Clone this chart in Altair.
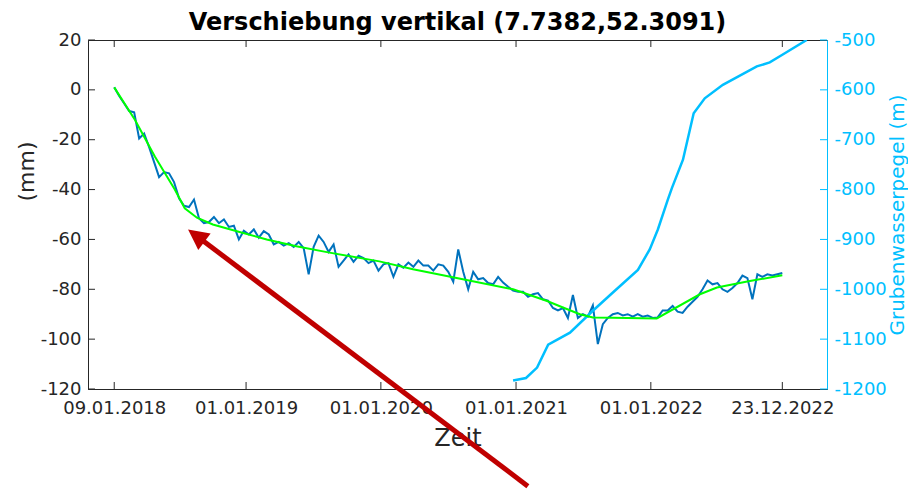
import altair as alt
import pandas as pd

# ---------------- data ----------------
title_text = "Verschiebung vertikal (7.7382,52.3091)"
x_title = "Zeit"
left_title = "(mm)"
right_title = "Grubenwasserpegel (m)"

# vertical displacement (mm), regular acquisition grid from first to last date
disp_first_date = "2018-01-09"
disp_last_date = "2022-12-23"
disp_values = [
    1, -2.5, -5.5, -8.5, -9, -19.5, -17.5, -23, -29, -35,
    -33, -33.5, -37, -43.5, -46.5, -47, -44, -51.5, -53.5, -53,
    -51, -53.5, -52, -55, -54.5, -60, -56.5, -58, -56, -59.3,
    -56.7, -58, -62, -61, -62.5, -61.5, -63, -61, -63.5, -74,
    -63, -58.5, -61, -65, -62, -71, -68.5, -66, -69, -66.5,
    -67.5, -69.5, -68.5, -72.5, -70, -69.5, -75, -70, -71.3, -69.3,
    -71, -68.5, -70.5, -70.5, -72.5, -70, -70.5, -73, -77, -64,
    -73, -80, -73, -76, -75.5, -77.5, -78, -75, -77.3, -79,
    -80.5, -81, -81, -83, -82, -81.5, -84, -84.5, -87.5, -88.5,
    -87.5, -91.5, -82.3, -91.5, -90, -91, -86.5, -102, -94, -91.5,
    -90, -89.5, -90.5, -90, -91, -90, -91, -90.5, -91.5, -91.3,
    -88.5, -88.5, -86.7, -89, -89.5, -87, -85, -83, -80, -76.5,
    -78, -77.5, -80, -81, -79.5, -77.5, -74.5, -75.5, -84, -74,
    -75, -74, -74.5, -74, -73.5,
]

# smoothed trend (mm)
trend_dates = [
    "2018-01-09", "2018-03-06", "2018-04-29", "2018-06-22", "2018-07-19",
    "2018-08-21", "2018-10-03", "2018-12-07", "2019-02-26", "2019-05-17",
    "2019-08-15", "2019-12-28", "2020-03-28", "2020-08-10", "2020-12-24",
    "2021-03-26", "2021-05-08", "2021-06-23", "2021-07-28", "2021-09-20",
    "2022-01-17", "2022-05-14", "2022-06-29", "2022-09-26", "2022-12-23",
]
trend_values = [
    1, -12, -26.7, -40, -47.5,
    -51.3, -54, -56.7, -60, -62.7,
    -65.3, -68.8, -72, -76, -80,
    -84.7, -87.3, -90, -91.3, -91.4,
    -91.7, -82, -79.3, -76.7, -74.4,
]

# mine water level (m)
gw_dates = [
    "2020-12-24", "2021-01-28", "2021-02-27", "2021-03-29", "2021-05-27",
    "2021-07-28", "2021-09-21", "2021-11-27", "2021-12-29", "2022-01-20",
    "2022-02-16", "2022-02-27", "2022-03-29", "2022-04-27", "2022-05-27",
    "2022-07-15", "2022-10-15", "2022-11-19", "2022-12-22", "2023-02-27",
]
gw_values = [
    -1183, -1178, -1157, -1111, -1087,
    -1043, -1006, -961, -920, -880,
    -820, -797, -740, -647, -617,
    -590, -553, -545, -530, -500,
]

x_tick_dates = ["2018-01-09", "2019-01-01", "2020-01-01", "2021-01-01", "2022-01-01", "2022-12-23"]
left_tick_values = [20, 0, -20, -40, -60, -80, -100, -120]
right_tick_values = [-500, -600, -700, -800, -900, -1000, -1100, -1200]
x_domain = ["2017-10-30", "2023-04-23"]
left_domain = [-120, 20]
right_domain = [-1200, -500]

# annotation arrow (in data coordinates of the left axis)
arrow_shaft_dates = ["2021-02-02", "2018-08-23"]
arrow_shaft_values = [-159.0, -58.9]
arrow_tip_dates = ["2018-07-28"]
arrow_tip_values = [-56.0]

# ---------------- style ----------------
AX = "#262626"
BLUE = "#0072BD"
GREEN = "#00FF00"
CYAN = "#00BFFF"
RED = "#C00000"
FONT = "DejaVu Sans"
W, H = 739, 349
TICK = 7


def utc_dt(s):
    t = pd.Timestamp(s)
    return alt.DateTime(year=t.year, month=t.month, date=t.day, utc=True)


disp_df = pd.DataFrame({
    "date": pd.date_range(disp_first_date, disp_last_date, periods=len(disp_values)).strftime("%Y-%m-%dT%H:%M:%SZ"),
    "v": disp_values,
})
trend_df = pd.DataFrame({"date": trend_dates, "v": trend_values})
gw_df = pd.DataFrame({"date": gw_dates, "v": gw_values})
xt_df = pd.DataFrame({"date": x_tick_dates})
ylt_df = pd.DataFrame({"v": left_tick_values})
yrt_df = pd.DataFrame({"v": right_tick_values})
arrow_df = pd.DataFrame({
    "date": [arrow_shaft_dates[0]], "d2": [arrow_shaft_dates[1]],
    "v1": [arrow_shaft_values[0]], "v2": [arrow_shaft_values[1]],
})
tip_df = pd.DataFrame({"date": arrow_tip_dates, "v": arrow_tip_values})
title_df = pd.DataFrame({"t": [title_text]})

x_scale = alt.Scale(type="utc", domain=[utc_dt(d) for d in x_domain])
yl_scale = alt.Scale(domain=left_domain, nice=False, zero=False)
yr_scale = alt.Scale(domain=right_domain, nice=False, zero=False)

x_axis = alt.Axis(
    values=[utc_dt(d) for d in x_tick_dates],
    labelExpr="utcFormat(datum.value, '%d.%m.%Y')",
    labelOverlap=False, labelFlush=False, labelFontSize=18, labelColor=AX, labelPadding=10,
    ticks=False, grid=False, domainColor=AX,
    title=x_title, titleFontSize=24, titleFontWeight="normal", titleColor=AX,
    titleBaseline="alphabetic", titleY=56,
)
yl_axis = alt.Axis(
    orient="left", values=left_tick_values, labelExpr="'' + datum.value",
    labelFontSize=18, labelColor=AX, labelPadding=7,
    ticks=False, grid=False, domainColor=AX,
    title=left_title, titleFontSize=22, titleFontWeight="normal", titleColor=AX,
    titleAngle=270, titleAlign="center", titleBaseline="alphabetic",
    titleX=-55, titleY=131,
)
yr_axis = alt.Axis(
    orient="right", values=right_tick_values, labelExpr="'' + datum.value",
    labelFontSize=18, labelColor=CYAN, labelPadding=7,
    ticks=False, grid=False, domainColor=CYAN,
    title=right_title, titleFontSize=20, titleFontWeight="normal", titleColor=CYAN,
    titleAngle=270, titleAlign="center", titleBaseline="alphabetic",
    titleX=76, titleY=174.5,
)


def xe(field="date"):
    return alt.X(field, type="temporal", scale=x_scale, axis=x_axis)


disp = alt.Chart(disp_df).mark_line(color=BLUE, strokeWidth=2, clip=True).encode(
    x=xe(), y=alt.Y("v:Q", scale=yl_scale, axis=yl_axis))
gw = alt.Chart(gw_df).mark_line(color=CYAN, strokeWidth=2.5, clip=True).encode(
    x=xe(), y=alt.Y("v:Q", scale=yr_scale, axis=yr_axis))
trend = alt.Chart(trend_df).mark_line(color=GREEN, strokeWidth=2, clip=True).encode(
    x=xe(), y=alt.Y("v:Q", scale=yl_scale, axis=None))

xt_bottom = alt.Chart(xt_df).mark_rule(color=AX, strokeWidth=1).encode(
    x=xe(), y=alt.value(H), y2=alt.value(H - TICK))
xt_top = alt.Chart(xt_df).mark_rule(color=AX, strokeWidth=1).encode(
    x=xe(), y=alt.value(0), y2=alt.value(TICK))
yl_ticks = alt.Chart(ylt_df).mark_rule(color=AX, strokeWidth=1).encode(
    y=alt.Y("v:Q", scale=yl_scale, axis=None), x=alt.value(0), x2=alt.value(TICK))
yr_ticks = alt.Chart(yrt_df).mark_rule(color=CYAN, strokeWidth=1).encode(
    y=alt.Y("v:Q", scale=yr_scale, axis=None), x=alt.value(W), x2=alt.value(W - TICK))

arrow_shaft = alt.Chart(arrow_df).mark_rule(color=RED, strokeWidth=5, clip=False).encode(
    x=xe(), x2="d2:T",
    y=alt.Y("v1:Q", scale=yl_scale, axis=None), y2="v2:Q")
arrow_head = alt.Chart(tip_df).mark_point(
    shape="M0,0L1,2L-1,2Z", size=420, angle=307, filled=True, opacity=1,
    color=RED, strokeWidth=0, clip=False).encode(
    x=xe(), y=alt.Y("v:Q", scale=yl_scale, axis=None))

title_mark = alt.Chart(title_df).mark_text(
    font=FONT, fontSize=24, fontWeight="bold", color="black",
    align="center", baseline="alphabetic", clip=False).encode(
    text="t:N", x=alt.value(W / 2), y=alt.value(-10))

chart = alt.layer(
    disp, gw, trend, xt_bottom, xt_top, yl_ticks, yr_ticks, arrow_shaft, arrow_head, title_mark
).resolve_scale(y="independent").properties(
    width=W, height=H,
    autosize=alt.AutoSizeParams(type="none"),
    padding={"left": 80, "top": 32, "right": 81, "bottom": 100},
).configure(font=FONT).configure_view(stroke=AX, strokeWidth=1)

chart.save("out.html", embed_options={"renderer": "svg", "actions": False})
